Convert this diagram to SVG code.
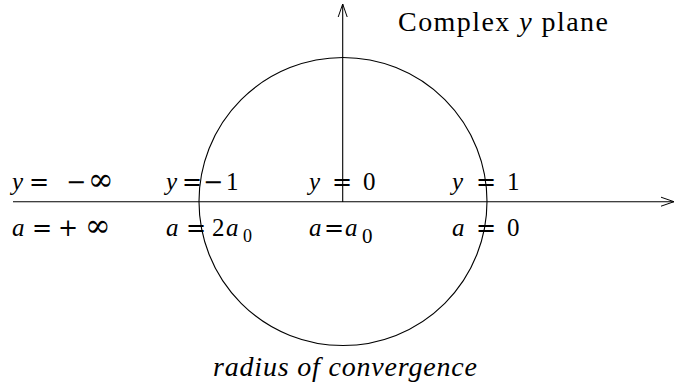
<svg xmlns="http://www.w3.org/2000/svg" width="675" height="385" viewBox="0 0 675 385">
<style>
.t{font-family:'Liberation Serif',serif;font-size:25px;fill:#000}
.big{font-size:28px}
.i{font-style:italic}
.m{font-family:'DejaVu Serif',serif;font-size:24px}
.inf{font-size:31px}
.s{font-size:18px}
.s2{font-size:21px}
.ln{fill:none;stroke:#000;stroke-width:1.1}
</style>
<defs>
<marker id="ah" markerWidth="16" markerHeight="12" refX="14" refY="6" orient="auto" markerUnits="userSpaceOnUse">
<path d="M1,1.5 L14,6 L1,10.5" fill="none" stroke="#000" stroke-width="1"/>
</marker>
</defs>
<rect width="675" height="385" fill="#fff"/>
<g id="circle"><circle class="ln" cx="343" cy="201.5" r="144"/></g>
<g id="connectors">
<line class="ln" x1="13" y1="201.7" x2="674" y2="201.7" marker-end="url(#ah)"/>
<line class="ln" x1="342.7" y1="202" x2="342.7" y2="4" marker-end="url(#ah)"/>
</g>
<g id="title"><text class="t big" x="398" y="31" textLength="210" lengthAdjust="spacing">Complex <tspan class="i">y</tspan> plane</text></g>
<g id="col1">
<text class="t" y="190"><tspan class="i" x="12">y</tspan><tspan class="m" x="29">=</tspan><tspan class="m" x="66">−</tspan><tspan class="m inf" x="88">∞</tspan></text>
<text class="t" y="236"><tspan class="i" x="12">a</tspan><tspan class="m" x="32">=</tspan><tspan class="m" x="58">+</tspan><tspan class="m inf" x="85">∞</tspan></text>
</g>
<g id="col2">
<text class="t" y="190"><tspan class="i" x="166">y</tspan><tspan class="m" x="182">=</tspan><tspan class="m" x="203">−</tspan><tspan x="226">1</tspan></text>
<text class="t" y="236"><tspan class="i" x="166">a</tspan><tspan class="m" x="186">=</tspan><tspan x="212">2</tspan><tspan class="i" x="226">a</tspan><tspan class="s" x="243" y="242">0</tspan></text>
</g>
<g id="col3">
<text class="t" y="190"><tspan class="i" x="309">y</tspan><tspan class="m" x="332">=</tspan><tspan x="363">0</tspan></text>
<text class="t" y="236"><tspan class="i" x="309">a</tspan><tspan class="m" x="324">=</tspan><tspan class="i" x="345">a</tspan><tspan class="s2" x="362" y="243">0</tspan></text>
</g>
<g id="col4">
<text class="t" y="190"><tspan class="i" x="452">y</tspan><tspan class="m" x="476">=</tspan><tspan x="507">1</tspan></text>
<text class="t" y="236"><tspan class="i" x="452">a</tspan><tspan class="m" x="476">=</tspan><tspan x="507">0</tspan></text>
</g>
<g id="caption"><text class="t big i" x="213" y="376" textLength="264" lengthAdjust="spacing">radius of convergence</text></g>
</svg>
